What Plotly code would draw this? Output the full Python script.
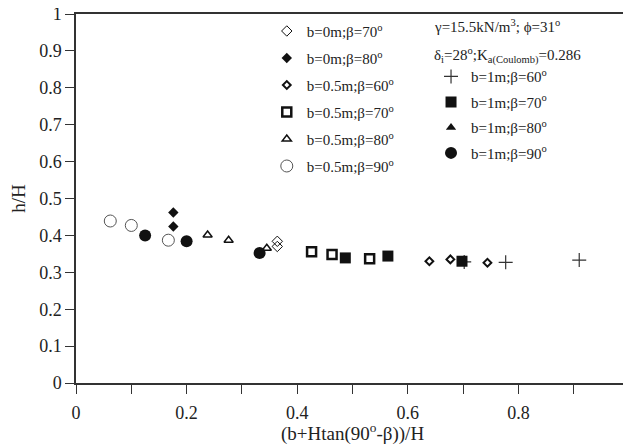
import plotly.graph_objects as go

# ---- data ----
b0_70_x = [0.364, 0.364]; b0_70_y = [0.384, 0.370]
b0_80_x = [0.176, 0.176]; b0_80_y = [0.462, 0.424]
b05_60_x = [0.639, 0.677, 0.744]; b05_60_y = [0.330, 0.335, 0.326]
b05_70_x = [0.426, 0.463, 0.531]; b05_70_y = [0.356, 0.348, 0.337]
b05_80_x = [0.238, 0.276, 0.345]; b05_80_y = [0.401, 0.387, 0.365]
b05_90_x = [0.062, 0.100, 0.167]; b05_90_y = [0.439, 0.427, 0.387]
b1_60_x = [0.702, 0.777, 0.910]; b1_60_y = [0.328, 0.327, 0.333]
b1_70_x = [0.487, 0.564, 0.698]; b1_70_y = [0.339, 0.344, 0.330]
b1_80_x = [None]; b1_80_y = [None]
b1_90_x = [0.125, 0.200, 0.332]; b1_90_y = [0.400, 0.384, 0.352]

x_ticks = [0, 0.1, 0.2, 0.3, 0.4, 0.5, 0.6, 0.7, 0.8, 0.9, 1]
x_ticktext = ["0", "", "0.2", "", "0.4", "", "0.6", "", "0.8", "", "1"]
y_ticks = [0, 0.1, 0.2, 0.3, 0.4, 0.5, 0.6, 0.7, 0.8, 0.9, 1]
y_ticktext = ["0", "0.1", "0.2", "0.3", "0.4", "0.5", "0.6", "0.7", "0.8", "0.9", "1"]

FONT = "Liberation Serif"
K = "#111111"

series = [
    ("b=0m;β=70<sup>o</sup>", b0_70_x, b0_70_y, dict(symbol="diamond-open", size=8, color=K, line=dict(width=1, color=K)), "legend"),
    ("b=0m;β=80<sup>o</sup>", b0_80_x, b0_80_y, dict(symbol="diamond", size=8, color=K, line=dict(width=0)), "legend"),
    ("b=0.5m;β=60<sup>o</sup>", b05_60_x, b05_60_y, dict(symbol="diamond-open", size=6, color=K, line=dict(width=2, color=K)), "legend"),
    ("b=0.5m;β=70<sup>o</sup>", b05_70_x, b05_70_y, dict(symbol="square-open", size=9, color=K, line=dict(width=2.5, color=K)), "legend"),
    ("b=0.5m;β=80<sup>o</sup>", b05_80_x, b05_80_y, dict(symbol="triangle-up-open", size=8, color=K, line=dict(width=1.5, color=K)), "legend"),
    ("b=0.5m;β=90<sup>o</sup>", b05_90_x, b05_90_y, dict(symbol="circle-open", size=12, color="#555555", line=dict(width=1, color="#555555")), "legend"),
    ("b=1m;β=60<sup>o</sup>", b1_60_x, b1_60_y, dict(symbol="cross-thin-open", size=10, color="#333333", line=dict(width=1.2, color="#333333")), "legend2"),
    ("b=1m;β=70<sup>o</sup>", b1_70_x, b1_70_y, dict(symbol="square", size=11, color=K, line=dict(width=0)), "legend2"),
    ("b=1m;β=80<sup>o</sup>", b1_80_x, b1_80_y, dict(symbol="triangle-up", size=9, color=K, line=dict(width=0)), "legend2"),
    ("b=1m;β=90<sup>o</sup>", b1_90_x, b1_90_y, dict(symbol="circle", size=12, color=K, line=dict(width=0)), "legend2"),
]

fig = go.Figure()
for i, (name, xs, ys, mk, lg) in enumerate(series):
    fig.add_trace(go.Scatter(x=xs, y=ys, mode="markers", name=name, marker=mk,
                             legend=lg, legendgroup="g%d" % i, showlegend=True))

axis_common = dict(showline=True, linecolor="#333333", linewidth=1.5, mirror=True,
                   ticks="outside", ticklen=9, tickwidth=1.2, tickcolor="#333333",
                   showgrid=False, zeroline=False, automargin=False,
                   ticklabeloverflow="allow",
                   tickfont=dict(family=FONT, size=18, color="#222222"))

# page body has an 8px margin: figure sized to fit the 631x445 window
fig.update_layout(
    width=623, height=437,
    margin=dict(l=68, r=2, t=6, b=62),
    paper_bgcolor="white", plot_bgcolor="white",
    font=dict(family=FONT, color="#222222"),
    xaxis=dict(range=[0, 1], tickvals=x_ticks, ticktext=x_ticktext, ticklabelstandoff=4,
               **axis_common),
    yaxis=dict(range=[0, 1], tickvals=y_ticks, ticktext=y_ticktext,
               title=dict(text="h/H", font=dict(family=FONT, size=19), standoff=17),
               **axis_common),
    legend=dict(x=0.345, y=0.998, xanchor="left", yanchor="top", bgcolor="rgba(0,0,0,0)",
                font=dict(family=FONT, size=15), traceorder="grouped", tracegroupgap=4.5,
                borderwidth=0),
    legend2=dict(x=0.642, y=0.875, xanchor="left", yanchor="top", bgcolor="rgba(0,0,0,0)",
                 font=dict(family=FONT, size=15), traceorder="grouped", tracegroupgap=3,
                 borderwidth=0),
    annotations=[
        dict(x=0.5, y=-0.133, xref="paper", yref="paper", xanchor="center", yanchor="middle",
             text="(b+Htan(90<sup>o</sup>-β))/H", showarrow=False,
             font=dict(family=FONT, size=19)),
        dict(x=0.644, y=0.968, xref="paper", yref="paper", xanchor="left", yanchor="middle",
             text="γ=15.5kN/m<sup>3</sup>; ϕ=31<sup>o</sup>", showarrow=False,
             font=dict(family=FONT, size=15)),
        dict(x=0.644, y=0.888, xref="paper", yref="paper", xanchor="left", yanchor="middle",
             text="δ<sub>i</sub>=28<sup>o</sup>;K<sub>a(Coulomb)</sub>=0.286", showarrow=False,
             font=dict(family=FONT, size=15)),
    ],
)

fig.write_html("out.html")
